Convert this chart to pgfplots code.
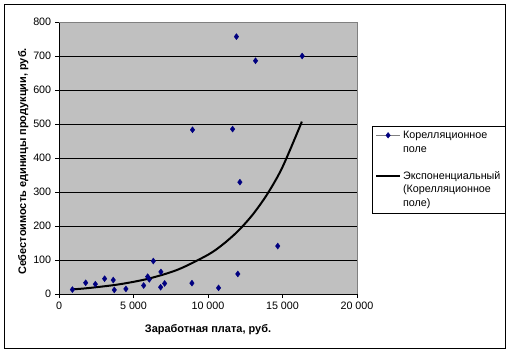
\documentclass[border=0pt]{standalone}
\usepackage{pgfplots}
\pgfplotsset{compat=1.18}
\usepackage{fontspec}
\setmainfont{Liberation Sans}
\definecolor{navy}{HTML}{000080}
\definecolor{plotgray}{HTML}{C0C0C0}
\definecolor{bordergray}{HTML}{808080}
\begin{document}
\fontsize{10.8}{12.5}\selectfont
\begin{tikzpicture}[x=1bp,y=1bp]
\path (0,0) rectangle (514,353);
\draw[black, line width=1bp] (4.5,5) rectangle (505,348.5);
\begin{axis}[
  at={(59bp,59bp)}, anchor=south west,
  scale only axis, width=298bp, height=272bp,
  xmin=0, xmax=20000, ymin=0, ymax=800,
  xtick={0,5000,10000,15000,20000},
  ytick={0,100,...,800},
  axis lines*=left,
  axis line style={-, black, line width=0.75bp},
  axis background/.style={fill=plotgray},
  tick align=outside, major tick length=4bp,
  tick style={black, line width=0.75bp},
  ymajorgrids, major grid style={black, line width=0.75bp},
  scaled x ticks=false, scaled y ticks=false,
  /pgf/number format/.cd, 1000 sep={\ }, assume math mode=true,
  /pgfplots/.cd,
  ticklabel style={font=\fontsize{10.8}{12}\selectfont},
  xlabel={\textbf{Заработная плата, руб.}},
  ylabel={\textbf{Себестоимость единицы продукции, руб.}},
  label style={font=\fontsize{11}{13}\selectfont},
  xlabel style={at={(axis description cs:0.5,-0.132)}, anchor=center},
  ylabel style={at={(axis description cs:-0.12,0.487)}, anchor=center, rotate=0},
  legend style={at={(axis description cs:1.05,0.618)}, anchor=north west,
    draw=black, fill=white, font=\fontsize{10.8}{11.2}\selectfont,
    cells={anchor=base west, inner ysep=0bp},
    row sep=0bp, inner xsep=3bp, inner ysep=3bp},
  after end axis/.code={\draw[bordergray, line width=0.75bp] (rel axis cs:0,1) -- (rel axis cs:1,1) -- (rel axis cs:1,0);},
]
\addplot[only marks, mark=diamond*, mark size=3bp, color=navy, forget plot]
coordinates {
(900,13) (1790,33) (2440,29) (3060,45) (3640,41) (3710,12) (4490,15)
(5680,25) (5950,51) (6060,43) (6330,97) (6840,65) (6820,20) (7090,31)
(8920,32) (8960,483) (10710,18) (11650,485) (11910,757) (12000,59)
(12140,329) (13190,686) (14680,141) (16320,700)
};
\addplot[black, line width=2bp, smooth, forget plot]
coordinates {
(900,13.6) (2000,17.6) (4000,28.2) (6000,45.1) (8000,72.1) (10000,115.4)
(11000,145.9) (12000,184.6) (13000,233.5) (14000,295.3) (15000,373.4) (16300,507)
};
\addlegendimage{legend image code/.code={
    \draw[draw=bordergray, line width=1.1bp] (0bp,3.6bp) -- (24bp,3.6bp);
    \fill[navy] (12bp,6.4bp) -- (14.2bp,3.6bp) -- (12bp,0.8bp) -- (9.8bp,3.6bp) -- cycle;}}
\addlegendentry{Корелляционное\strut}
\addlegendimage{empty legend}
\addlegendentry{поле\strut}
\addlegendimage{empty legend}
\addlegendentry{\strut}
\addlegendimage{legend image code/.code={\draw[draw=black, line width=2bp] (0bp,3.6bp) -- (24bp,3.6bp);}}
\addlegendentry{Экспоненциальный\strut}
\addlegendimage{empty legend}
\addlegendentry{(Корелляционное\strut}
\addlegendimage{empty legend}
\addlegendentry{поле)\strut}
\end{axis}
\end{tikzpicture}
\end{document}
